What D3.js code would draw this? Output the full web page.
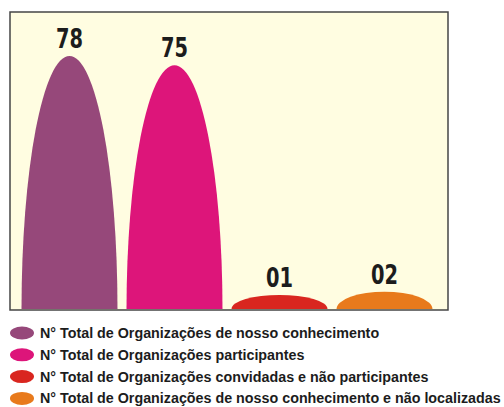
<!DOCTYPE html>
<html>
<head>
<meta charset="utf-8">
<script src="https://cdn.jsdelivr.net/npm/d3@7"></script>
<style>
  body { margin: 0; background: #fff; }
</style>
</head>
<body>
<div id="chart"></div>
<script>
// data
var categories = [
    "N° Total de Organizações de nosso conhecimento",
    "N° Total de Organizações participantes",
    "N° Total de Organizações convidadas e não participantes",
    "N° Total de Organizações de nosso conhecimento e não localizadas"
];
var values = [78, 75, 1, 2];
var valueLabels = ["78", "75", "01", "02"];
var colours = ["#96487a", "#dd157a", "#d9261f", "#e87a1c"];

var w = 504;
var h = 407;

var svg = d3.select("#chart").append("svg")
    .attr("width", w)
    .attr("height", h);

// plot frame
var frame = { x: 10, y: 12, w: 438, h: 298 };
var base = 309;

svg.append("rect")
    .attr("x", frame.x)
    .attr("y", frame.y)
    .attr("width", frame.w)
    .attr("height", frame.h)
    .attr("fill", "#fffde1")
    .attr("stroke", "#454545")
    .attr("stroke-width", 1.5);

var x = d3.scaleBand()
    .domain(categories)
    .range([17, 437])
    .paddingInner(0.086)
    .paddingOuter(0.043);

// arches start a little below y(0), so small values still show
var y = d3.scaleLinear()
    .domain([0, 78])
    .range([298, 56]);

svg.selectAll("path.bar")
    .data(values)
    .enter()
    .append("path")
    .attr("class", "bar")
    .attr("fill", function(d, i) { return colours[i]; })
    .attr("d", function(d, i) {
        var x0 = x(categories[i]);
        var bw = x.bandwidth();
        var ry = base - y(d);
        return "M" + x0 + "," + base + " A" + (bw / 2) + "," + ry + " 0 0 1 " + (x0 + bw) + "," + base + " Z";
    });

svg.selectAll("text.val")
    .data(values)
    .enter()
    .append("text")
    .attr("class", "val")
    .attr("x", function(d, i) { return x(categories[i]) + x.bandwidth() / 2; })
    .attr("y", function(d) { return y(d) - 8; })
    .attr("text-anchor", "middle")
    .attr("font-family", "'DejaVu Sans', sans-serif")
    .attr("font-weight", "bold")
    .attr("font-size", "27px")
    .attr("textLength", 27)
    .attr("lengthAdjust", "spacingAndGlyphs")
    .attr("fill", "#1c1c1c")
    .text(function(d, i) { return valueLabels[i]; });

// legend
var legend = svg.selectAll("g.legend")
    .data(categories)
    .enter()
    .append("g")
    .attr("class", "legend")
    .attr("transform", function(d, i) { return "translate(0," + (333 + i * 21.8) + ")"; });

legend.append("ellipse")
    .attr("cx", 22)
    .attr("cy", 0)
    .attr("rx", 12)
    .attr("ry", 6.5)
    .attr("fill", function(d, i) { return colours[i]; });

legend.append("text")
    .attr("x", 40)
    .attr("y", 5)
    .attr("font-family", "'Liberation Sans', sans-serif")
    .attr("font-weight", "bold")
    .attr("font-size", "14.3px")
    .attr("fill", "#1c1c1c")
    .text(function(d) { return d; });
</script>
</body>
</html>
